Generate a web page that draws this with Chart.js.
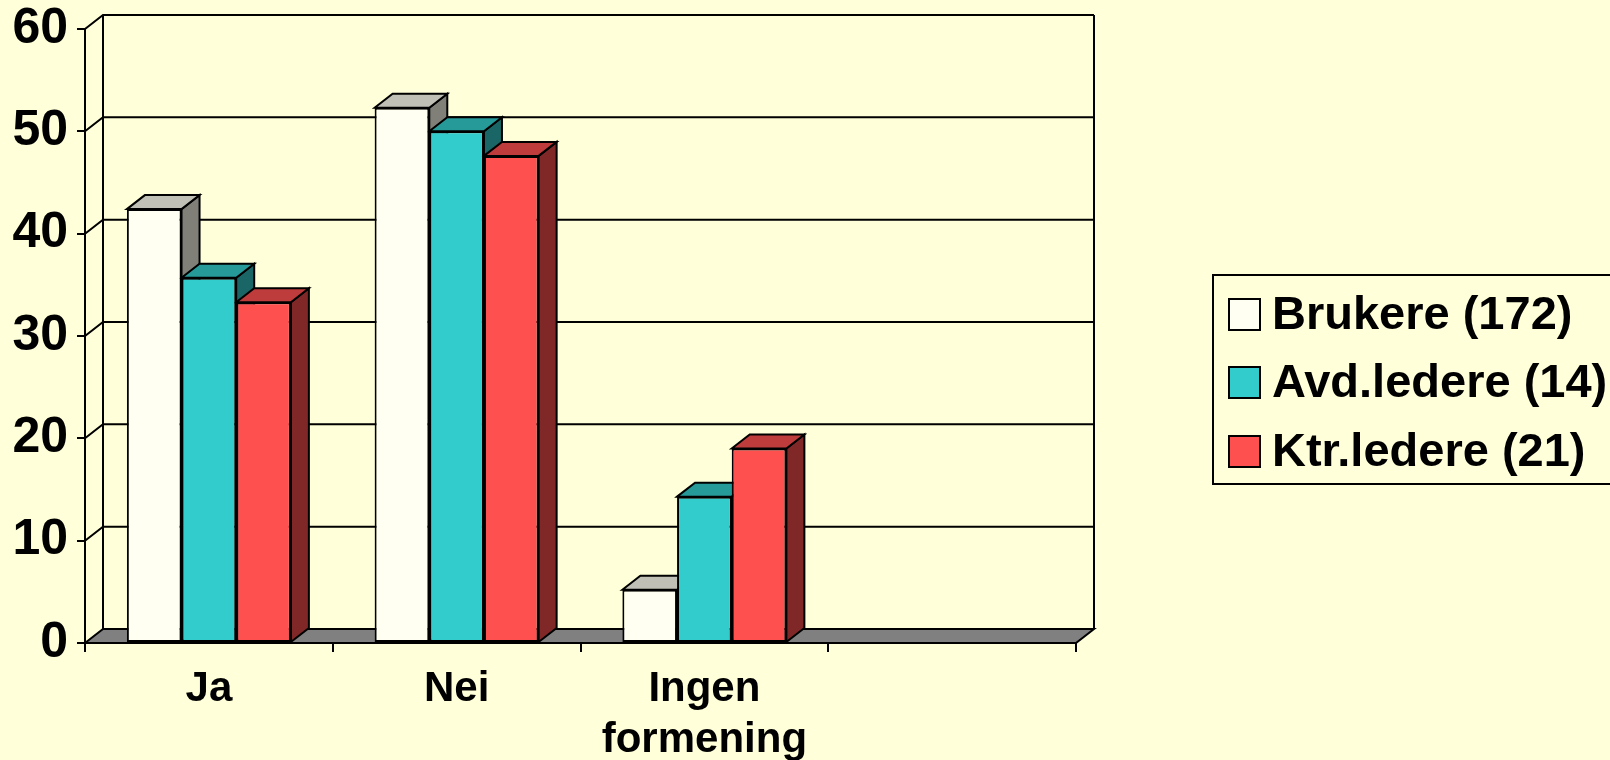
<!DOCTYPE html>
<html>
<head>
<meta charset="utf-8">
<script src="https://cdn.jsdelivr.net/npm/chart.js@4.4.0/dist/chart.umd.min.js"></script>
<style>
  html, body { margin: 0; padding: 0; background: #FFFFD9; overflow: hidden; }
</style>
</head>
<body>
<canvas id="chart" width="1610" height="760"></canvas>
<script>
// data (percent)
const categories = ['Ja', 'Nei', ['Ingen', 'formening'], ''];
const brukere = [42.4, 52.3, 5.2, null];
const avdLedere = [35.7, 50.0, 14.3, null];
const ktrLedere = [33.3, 47.6, 19.0, null];
const seriesLabels = ['Brukere (172)', 'Avd.ledere (14)', 'Ktr.ledere (21)'];
const yMax = 60;
const yStep = 10;

// face colours: front, top, side
const faces = [
    ['#FFFFF2', '#C0C0B6', '#808079'],
    ['#33CCCC', '#269999', '#1A6666'],
    ['#FF5050', '#BF3C3C', '#802828']
];

const FONT = '"Liberation Sans", Arial, sans-serif';
const DX = 18, DY = 14; // depth of the 3d box

const poly = (ctx, pts, fill) => {
    ctx.beginPath();
    ctx.moveTo(pts[0][0], pts[0][1]);
    pts.slice(1).forEach(p => ctx.lineTo(p[0], p[1]));
    ctx.closePath();
    if (fill) { ctx.fillStyle = fill; ctx.fill(); }
    ctx.stroke();
};

// walls, floor and the top/side faces of the bars
const box3d = {
    id: 'box3d',
    beforeDatasetsDraw(chart) {
        const { ctx, chartArea: a, scales: { y } } = chart;
        ctx.save();
        ctx.strokeStyle = '#000';
        ctx.lineWidth = 2;
        ctx.lineJoin = 'miter';

        // back wall gridlines + left wall diagonals
        for (let v = yStep; v <= yMax; v += yStep) {
            const py = y.getPixelForValue(v);
            ctx.beginPath();
            ctx.moveTo(a.left, py);
            ctx.lineTo(a.left + DX, py - DY);
            ctx.lineTo(a.right + DX, py - DY);
            ctx.stroke();
        }
        ctx.beginPath();
        ctx.moveTo(a.left + DX, a.bottom - DY);
        ctx.lineTo(a.left + DX, a.top - DY);
        ctx.moveTo(a.right + DX, a.top - DY);
        ctx.lineTo(a.right + DX, a.bottom - DY);
        ctx.stroke();

        // floor
        poly(ctx, [[a.left, a.bottom], [a.left + DX, a.bottom - DY], [a.right + DX, a.bottom - DY], [a.right, a.bottom]], '#808080');

        // top and side faces, category by category so later bars cover earlier sides
        categories.forEach((c, i) => {
            chart.data.datasets.forEach((ds, d) => {
                if (ds.data[i] == null) return;
                const el = chart.getDatasetMeta(d).data[i];
                const l = el.x - el.width / 2, r = el.x + el.width / 2;
                const t = el.y, b = el.base;
                poly(ctx, [[r, t], [r + DX, t - DY], [r + DX, b - DY], [r, b]], faces[d][2]);
                poly(ctx, [[l, t], [l + DX, t - DY], [r + DX, t - DY], [r, t]], faces[d][1]);
            });
        });
        ctx.restore();
    }
};

// boxed legend at the right, running off the edge like the original
const boxLegend = {
    id: 'boxLegend',
    afterDraw(chart) {
        const { ctx } = chart;
        const rows = [314, 382, 451];
        ctx.save();
        ctx.strokeStyle = '#000';
        ctx.lineWidth = 2;
        ctx.strokeRect(1213, 275, 500, 209);
        ctx.font = 'bold 47px ' + FONT;
        ctx.textBaseline = 'middle';
        chart.data.datasets.forEach((ds, d) => {
            ctx.fillStyle = ds.backgroundColor;
            ctx.fillRect(1229, rows[d] - 15, 31, 31);
            ctx.strokeRect(1229, rows[d] - 15, 31, 31);
            ctx.fillStyle = '#000';
            ctx.fillText(ds.label, 1272, rows[d] + 2);
        });
        ctx.restore();
    }
};

const mkSet = (label, data, d) => ({
    label: label,
    data: data,
    backgroundColor: faces[d][0],
    borderColor: '#000',
    borderWidth: 2,
    borderSkipped: false,
    categoryPercentage: 0.662,
    barPercentage: 1.0
});

new Chart(document.getElementById('chart'), {
    type: 'bar',
    data: {
        labels: categories,
        datasets: [
            mkSet(seriesLabels[0], brukere, 0),
            mkSet(seriesLabels[1], avdLedere, 1),
            mkSet(seriesLabels[2], ktrLedere, 2)
        ]
    },
    options: {
        responsive: false,
        animation: false,
        layout: { padding: { top: 29, right: 534, bottom: 0, left: 0 } },
        plugins: {
            legend: { display: false },
            tooltip: { enabled: false }
        },
        scales: {
            x: {
                afterFit: s => { s.height = 117; },
                grid: { drawOnChartArea: false, tickLength: 9, color: '#000', lineWidth: 2, offset: true },
                border: { display: true, color: '#000', width: 2 },
                ticks: {
                    color: '#000',
                    padding: 12,
                    maxRotation: 0,
                    font: { family: FONT, size: 42, weight: 'bold', lineHeight: 1.22 }
                }
            },
            y: {
                min: 0,
                max: yMax,
                afterFit: s => { s.width = 85; s.paddingTop = 0; s.paddingBottom = 0; },
                grid: { drawOnChartArea: false, tickLength: 8, color: '#000', lineWidth: 2 },
                border: { display: true, color: '#000', width: 2 },
                ticks: {
                    stepSize: yStep,
                    color: '#000',
                    padding: 9,
                    font: { family: FONT, size: 50, weight: 'bold' }
                }
            }
        }
    },
    plugins: [box3d, boxLegend]
});
</script>
</body>
</html>
